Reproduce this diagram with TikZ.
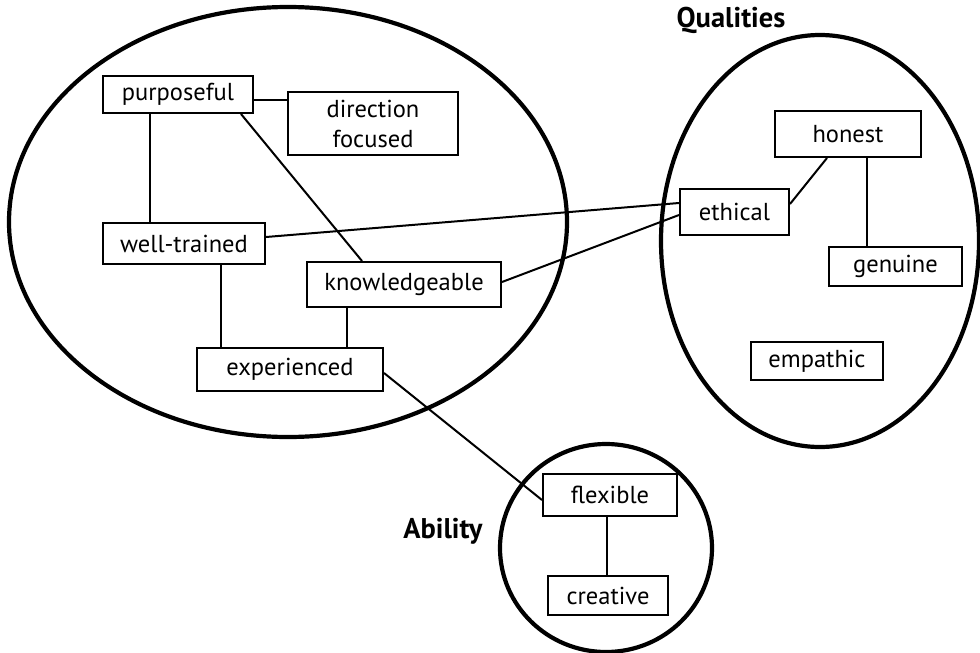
\documentclass[tikz,border=0pt]{standalone}
\usepackage{fontspec}
\setmainfont{PT Sans}
\usetikzlibrary{calc}
\tikzset{
  box/.style={draw, line width=2pt, inner sep=0pt, align=center, font=\fontsize{24.5}{30}\selectfont},
  link/.style={line width=2pt},
  group/.style={line width=4.2pt},
  title/.style={font=\bfseries\fontsize{28.5}{32}\selectfont, inner sep=0pt}
}
\begin{document}
\begin{tikzpicture}[x=1pt,y=-1pt]
\useasboundingbox (0,0) rectangle (980,653);
% groups
\draw[group] (288,222) ellipse [x radius=279, y radius=215];
\draw[group] (820,241) ellipse [x radius=159, y radius=206];
\draw[group] (606,548) ellipse [x radius=106, y radius=104];
\node[title] (qual) at (731,20) {Qualities};
\node[title] (abil) at (443,531) {Ability};
% nodes
\node[box, minimum width=150, minimum height=37] (purposeful) at (178,94.5) {purposeful};
\node[box, minimum width=170, minimum height=63] (direction) at (373,123.5) {direction\\focused};
\node[box, minimum width=162, minimum height=41] (welltrained) at (184,243.5) {well-trained};
\node[box, minimum width=194, minimum height=45] (knowledgeable) at (404,284.5) {knowledgeable};
\node[box, minimum width=186, minimum height=43] (experienced) at (290,369.5) {experienced};
\node[box, minimum width=146, minimum height=46] (honest) at (848,134) {honest};
\node[box, minimum width=109, minimum height=46] (ethical) at (734.5,212) {ethical};
\node[box, minimum width=133, minimum height=39] (genuine) at (895.5,266.5) {genuine};
\node[box, minimum width=132, minimum height=38] (empathic) at (817,361) {empathic};
\node[box, minimum width=134, minimum height=42] (flexible) at (610,495) {flexible};
\node[box, minimum width=120, minimum height=39] (creative) at (608,595.5) {creative};
% links
\draw[link] ([yshift=-5.5pt]purposeful.east) -- ([yshift=-5.5pt]purposeful.east -| direction.west);
\draw[link] ([xshift=48pt]purposeful.south west) -- ([xshift=48pt]purposeful.south west |- welltrained.north);
\draw[link] ([xshift=-13pt]purposeful.south east) -- ([xshift=56pt]knowledgeable.north west);
\draw[link] ([yshift=6.5pt]welltrained.east) -- ([yshift=9pt]ethical.west);
\draw[link] ([xshift=119pt]welltrained.south west) -- ([xshift=119pt]welltrained.south west |- experienced.north);
\draw[link] ([xshift=41pt]knowledgeable.south west) -- ([xshift=41pt]knowledgeable.south west |- experienced.north);
\draw[link] ([yshift=2.5pt]knowledgeable.east) -- ([yshift=-3pt]ethical.west);
\draw[link] ([yshift=-16pt]ethical.north east) -- ([xshift=53pt]honest.south west);
\draw[link] ([xshift=93pt]honest.south west) -- ([xshift=93pt]honest.south west |- genuine.north);
\draw[link] ([yshift=-3.5pt]experienced.east) -- ([yshift=-5pt]flexible.west);
\draw[link] ([xshift=-3pt]flexible.south) -- ([xshift=-3pt]flexible.south |- creative.north);
\end{tikzpicture}
\end{document}
